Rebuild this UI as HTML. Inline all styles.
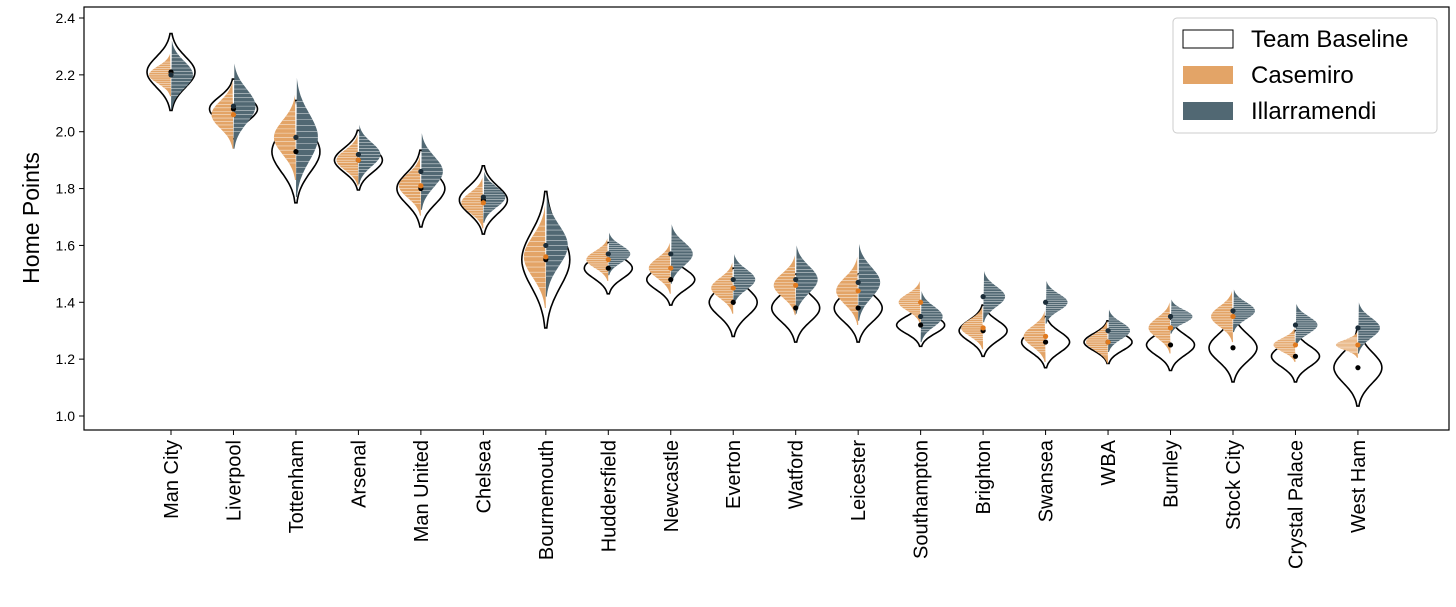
<!DOCTYPE html>
<html><head><meta charset="utf-8"><style>
body{margin:0;background:#fff;font-family:"Liberation Sans",sans-serif}
svg{display:block}
</style></head><body>
<svg id="chart" width="1456" height="607"></svg>
<script>
const teams=["Man City","Liverpool","Tottenham","Arsenal","Man United","Chelsea","Bournemouth","Huddersfield","Newcastle","Everton","Watford","Leicester","Southampton","Brighton","Swansea","WBA","Burnley","Stock City","Crystal Palace","West Ham"];
const baseMean=[2.21,2.08,1.93,1.90,1.80,1.76,1.55,1.52,1.48,1.40,1.38,1.38,1.32,1.30,1.26,1.26,1.25,1.24,1.21,1.17];
const baseSd=[0.045,0.035,0.06,0.035,0.045,0.04,0.08,0.03,0.03,0.04,0.04,0.04,0.025,0.03,0.03,0.025,0.03,0.04,0.03,0.045];
const casMean=[2.20,2.06,1.98,1.90,1.81,1.75,1.56,1.55,1.52,1.45,1.46,1.44,1.40,1.31,1.28,1.26,1.31,1.35,1.25,1.25];
const casSd=[0.025,0.04,0.05,0.03,0.035,0.03,0.06,0.025,0.03,0.03,0.035,0.04,0.025,0.025,0.03,0.025,0.03,0.03,0.02,0.015];
const illMean=[2.20,2.09,1.98,1.92,1.86,1.77,1.60,1.57,1.57,1.48,1.48,1.47,1.35,1.42,1.40,1.30,1.35,1.37,1.32,1.31];
const illSd=[0.04,0.05,0.07,0.035,0.045,0.03,0.06,0.025,0.035,0.03,0.04,0.045,0.03,0.03,0.025,0.025,0.02,0.025,0.025,0.03];
const yTicks=[1.0,1.2,1.4,1.6,1.8,2.0,2.2,2.4];

const NS="http://www.w3.org/2000/svg";
const svg=document.getElementById('chart');
const L=84,R=1449,T=7,B=430;
const y=v=>416-(v-1.0)/1.4*398;
const x=i=>171+i*62.47;
function mk(tag,attrs,parent){const e=document.createElementNS(NS,tag);for(const k in attrs)e.setAttribute(k,attrs[k]);(parent||svg).appendChild(e);return e;}
const dens=z=>Math.pow(Math.exp(-0.5*z*z),0.7);

function half(cx,m,sd,w,side){
  const pts=[];const n=40;
  for(let k=0;k<=n;k++){const v=m-3*sd+6*sd*k/n;const d=dens((v-m)/sd);pts.push([v,d*w]);}
  let p="";
  if(side===0){
    pts.forEach((q,k)=>p+=(k?"L":"M")+(cx+q[1]).toFixed(1)+","+y(q[0]).toFixed(1));
    for(let k=pts.length-1;k>=0;k--)p+="L"+(cx-pts[k][1]).toFixed(1)+","+y(pts[k][0]).toFixed(1);
    p+="Z";
  }else{
    p="M"+cx+","+y(pts[0][0]).toFixed(1);
    pts.forEach(q=>p+="L"+(cx+side*q[1]).toFixed(1)+","+y(q[0]).toFixed(1));
    p+="Z";
  }
  return p;
}

teams.forEach((t,i)=>{
  const cx=x(i);
  const g=mk('g',{});
  
  
  const b=mk('path',{d:half(cx,baseMean[i],baseSd[i],24,0),fill:'#fff',stroke:'#000','stroke-width':1.6},g);
  
  
  const c=mk('path',{d:half(cx,casMean[i],casSd[i],22,-1),fill:'#e3a467'},g);
  
  
  const il=mk('path',{d:half(cx,illMean[i],illSd[i],22,1),fill:'#516873'},g);
  
  
  for(let k=-6;k<=6;k++){
    const vc=casMean[i]+k*casSd[i]*0.3, dc=dens(k*0.3)*22;
    mk('line',{x1:cx-dc,x2:cx,y1:y(vc),y2:y(vc),stroke:'#fff','stroke-width':0.6,opacity:0.7},g);
    const vi=illMean[i]+k*illSd[i]*0.3, di=dens(k*0.3)*22;
    mk('line',{x1:cx,x2:cx+di,y1:y(vi),y2:y(vi),stroke:'#fff','stroke-width':0.6,opacity:0.7},g);
  }
  mk('circle',{cx:cx,cy:y(baseMean[i]),r:2.6,fill:'#000'},g);
  mk('circle',{cx:cx,cy:y(casMean[i]),r:2.6,fill:'#e07a1f'},g);
  mk('circle',{cx:cx,cy:y(illMean[i]),r:2.6,fill:'#1c2e3a'},g);
  const lab=mk('text',{x:0,y:0,transform:`translate(${cx+7},440) rotate(-90)`,'text-anchor':'end','font-size':20,fill:'#000'});
  lab.textContent=t;
  
  
  mk('line',{x1:cx,x2:cx,y1:B,y2:B+5,stroke:'#000'});
});

mk('rect',{x:L,y:T,width:R-L,height:B-T,fill:'none',stroke:'#000','stroke-width':1.2});
yTicks.forEach(v=>{
  mk('line',{x1:L-5,x2:L,y1:y(v),y2:y(v),stroke:'#000'});
  const tx=mk('text',{x:L-9,y:y(v)+5,'text-anchor':'end','font-size':14});
  tx.textContent=v.toFixed(1);
  
  
});
const yt=mk('text',{transform:'translate(39,218) rotate(-90)','text-anchor':'middle','font-size':23});
yt.textContent='Home Points';



const lg=mk('g',{});


mk('rect',{x:1173,y:18,width:264,height:115,rx:4,fill:'#fff',stroke:'#ccc'},lg);
const items=[["Team Baseline","#fff"],["Casemiro","#e3a467"],["Illarramendi","#516873"]];
items.forEach((it,k)=>{
  const yy=30+k*36;
  mk('rect',{x:1183,y:yy,width:50,height:18,fill:it[1],stroke:k===0?'#000':'none'},lg);
  const tx=mk('text',{x:1251,y:yy+17,'font-size':24},lg);
  tx.textContent=it[0];
  
  
});
</script>
</body></html>
